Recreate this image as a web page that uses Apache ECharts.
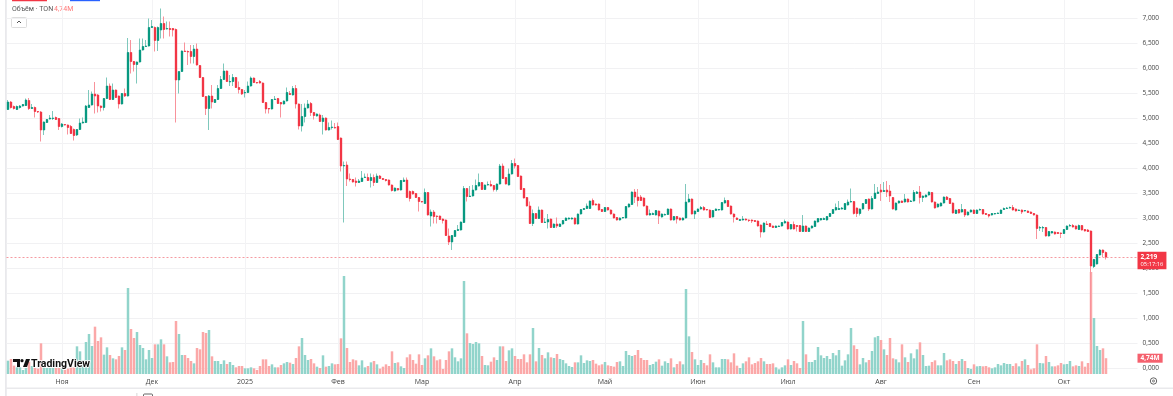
<!DOCTYPE html>
<html><head><meta charset="utf-8">
<style>html,body{margin:0;padding:0;background:#fff}#c{width:1173px;height:396px}</style>
<script src="https://cdn.jsdelivr.net/npm/echarts@6/dist/echarts.min.js"></script>
</head><body><div id="c"></div>
<script>
const opens=[5.17,5.32,5.23,5.17,5.21,5.24,5.25,5.35,5.19,5.21,
5.13,5.12,4.76,4.91,4.98,4.99,5.01,4.99,4.83,4.87,
4.86,4.83,4.77,4.66,4.77,4.90,4.91,5.21,5.26,5.48,
5.46,5.24,5.21,5.39,5.64,5.37,5.56,5.44,5.28,5.49,
5.44,6.31,6.13,6.07,6.12,6.36,6.43,6.44,6.81,6.81,
6.55,6.76,6.89,6.78,6.79,6.79,6.77,5.76,5.93,6.34,
6.33,6.33,6.23,6.38,6.05,5.81,5.43,5.19,5.44,5.31,
5.37,5.59,5.77,5.94,5.72,5.73,5.81,5.61,5.57,5.50,
5.51,5.64,5.80,5.71,5.73,5.70,5.31,5.19,5.18,5.37,
5.39,5.31,5.28,5.34,5.49,5.46,5.59,5.28,4.84,5.03,
5.20,5.29,5.11,5.04,5.06,4.93,5.00,4.76,4.81,4.81,
4.83,4.60,4.04,4.06,3.78,3.77,3.74,3.71,3.73,3.81,
3.81,3.75,3.81,3.71,3.84,3.79,3.77,3.76,3.66,3.54,
3.59,3.56,3.73,3.76,3.53,3.53,3.49,3.41,3.33,3.29,
3.51,3.04,3.12,3.04,3.04,2.98,2.96,2.64,2.52,2.63,
2.75,2.76,2.91,3.59,3.43,3.44,3.56,3.64,3.71,3.57,
3.66,3.67,3.65,3.57,3.68,4.04,3.81,3.66,3.88,4.09,
4.05,3.84,3.59,3.41,3.24,2.89,3.09,2.99,3.16,2.91,
2.92,2.98,2.81,2.88,2.83,2.88,2.95,2.98,2.98,3.00,
2.88,3.08,3.17,3.19,3.19,3.35,3.28,3.28,3.17,3.13,
3.21,3.16,3.08,3.01,2.96,3.00,3.00,3.22,3.27,3.52,
3.42,3.42,3.40,3.24,3.06,3.07,3.06,3.14,3.02,3.06,
3.07,3.18,2.96,3.03,3.00,2.96,3.00,3.32,3.38,3.08,
3.13,3.18,3.21,3.17,3.16,3.02,3.15,3.16,3.16,3.30,
3.35,3.24,3.08,3.00,2.95,2.96,2.98,2.96,2.96,2.95,
2.94,2.86,2.72,2.88,2.89,2.84,2.81,2.83,2.84,2.90,
2.92,2.78,2.87,2.85,2.85,2.73,2.84,2.73,2.80,2.83,
2.92,2.96,2.97,2.96,3.03,3.09,3.16,3.17,3.18,3.17,
3.26,3.32,3.33,3.20,3.09,3.18,3.29,3.38,3.18,3.39,
3.49,3.56,3.53,3.56,3.54,3.41,3.16,3.30,3.34,3.32,
3.38,3.33,3.34,3.49,3.52,3.41,3.42,3.46,3.51,3.32,
3.22,3.24,3.30,3.42,3.39,3.30,3.09,3.17,3.12,3.17,
3.06,3.12,3.16,3.09,3.16,3.17,3.09,3.07,3.06,3.08,
3.09,3.09,3.17,3.19,3.20,3.21,3.18,3.15,3.16,3.14,
3.14,3.12,3.09,3.06,2.80,2.80,2.81,2.64,2.70,2.72,
2.71,2.70,2.69,2.77,2.84,2.85,2.84,2.77,2.85,2.77,
2.76,2.74,2.03,2.08,2.26,2.36,2.31];
const closes=[5.32,5.21,5.19,5.23,5.24,5.27,5.36,5.19,5.21,5.13,
5.12,4.76,4.92,4.97,5.00,5.00,4.97,4.83,4.88,4.86,
4.81,4.69,4.65,4.77,4.90,4.92,5.24,5.26,5.48,5.44,
5.24,5.21,5.39,5.64,5.37,5.56,5.41,5.28,5.49,5.44,
6.31,6.13,6.07,6.12,6.36,6.43,6.44,6.81,6.83,6.55,
6.81,6.89,6.77,6.79,6.77,6.76,5.76,5.93,6.34,6.33,
6.32,6.23,6.38,6.06,5.81,5.43,5.19,5.44,5.32,5.37,
5.59,5.77,5.94,5.73,5.73,5.81,5.61,5.57,5.48,5.51,
5.64,5.80,5.71,5.70,5.70,5.31,5.18,5.18,5.37,5.38,
5.29,5.28,5.34,5.51,5.47,5.59,5.28,4.84,5.03,5.20,
5.28,5.11,5.05,5.08,4.93,5.00,4.76,4.81,4.82,4.80,
4.57,4.04,4.05,3.78,3.77,3.72,3.71,3.74,3.80,3.82,
3.75,3.81,3.71,3.84,3.79,3.77,3.75,3.66,3.55,3.60,
3.56,3.75,3.76,3.41,3.39,3.48,3.41,3.33,3.32,3.51,
3.06,3.12,3.03,3.03,2.97,2.95,2.65,2.52,2.65,2.75,
2.77,2.92,3.59,3.43,3.44,3.56,3.65,3.71,3.57,3.66,
3.67,3.64,3.57,3.68,4.04,3.79,3.68,3.88,4.09,4.04,
3.83,3.57,3.40,3.24,2.89,3.09,2.99,3.16,2.91,2.92,
2.97,2.81,2.88,2.84,2.88,2.95,3.00,3.00,3.00,2.88,
3.08,3.17,3.19,3.24,3.34,3.26,3.26,3.16,3.13,3.21,
3.16,3.08,3.00,2.96,3.00,3.01,3.23,3.28,3.52,3.42,
3.35,3.35,3.24,3.06,3.09,3.09,3.15,3.04,3.08,3.07,
3.18,2.96,3.03,2.98,2.96,3.00,3.32,3.38,3.08,3.14,
3.18,3.21,3.16,3.16,3.01,3.15,3.18,3.17,3.31,3.35,
3.23,3.08,3.02,2.97,2.97,2.98,2.96,2.95,2.94,2.93,
2.84,2.72,2.90,2.87,2.83,2.81,2.84,2.84,2.91,2.93,
2.78,2.87,2.78,2.83,2.73,2.84,2.73,2.80,2.84,2.94,
2.99,2.99,2.99,3.03,3.09,3.17,3.21,3.19,3.20,3.29,
3.32,3.33,3.09,3.09,3.18,3.29,3.37,3.18,3.39,3.50,
3.52,3.52,3.55,3.52,3.44,3.18,3.30,3.34,3.31,3.38,
3.32,3.34,3.51,3.52,3.41,3.44,3.46,3.52,3.32,3.20,
3.28,3.30,3.42,3.37,3.29,3.10,3.16,3.10,3.17,3.06,
3.12,3.16,3.09,3.16,3.17,3.08,3.07,3.04,3.09,3.09,
3.10,3.16,3.19,3.20,3.21,3.16,3.14,3.16,3.12,3.15,
3.11,3.09,3.06,2.79,2.81,2.81,2.64,2.73,2.73,2.68,
2.69,2.69,2.77,2.84,2.85,2.82,2.78,2.85,2.76,2.74,
2.73,2.04,2.17,2.27,2.36,2.31,2.219];
const lows=[5.16,5.19,5.17,5.16,5.19,5.23,5.24,5.16,5.18,5.01,
5.10,4.53,4.66,4.90,4.97,4.96,4.96,4.76,4.81,4.85,
4.67,4.68,4.55,4.64,4.76,4.89,4.90,5.20,5.25,5.09,
5.11,5.13,5.15,5.38,5.36,5.36,5.40,5.19,5.27,5.42,
5.43,5.89,5.93,5.69,6.11,6.35,6.42,6.43,6.80,6.33,
6.34,6.59,6.59,6.77,6.63,6.63,4.91,5.49,5.92,6.32,
6.06,6.09,6.09,6.05,5.80,5.42,5.06,4.76,5.19,5.30,
5.36,5.58,5.76,5.72,5.64,5.64,5.60,5.49,5.46,5.41,
5.50,5.63,5.70,5.69,5.69,5.30,5.09,5.09,5.17,5.36,
5.28,5.01,5.27,5.33,5.46,5.45,5.19,4.77,4.73,4.91,
5.19,5.04,4.97,5.03,4.92,4.67,4.75,4.75,4.77,4.79,
4.56,3.93,2.91,3.64,3.73,3.71,3.63,3.70,3.72,3.80,
3.74,3.61,3.64,3.70,3.78,3.76,3.73,3.65,3.53,3.53,
3.55,3.55,3.72,3.40,3.33,3.47,3.40,3.13,3.31,3.28,
3.05,2.83,2.89,2.89,2.96,2.89,2.64,2.46,2.36,2.62,
2.74,2.75,2.90,3.33,3.42,3.43,3.55,3.63,3.56,3.56,
3.65,3.63,3.53,3.53,3.67,3.78,3.67,3.65,3.87,3.99,
3.82,3.56,3.39,3.23,2.88,2.84,2.98,2.98,2.90,2.90,
2.79,2.80,2.80,2.80,2.82,2.87,2.94,2.97,2.97,2.87,
2.87,3.07,3.16,3.18,3.18,3.25,3.25,3.15,3.12,3.12,
3.15,3.07,2.99,2.95,2.95,2.99,2.99,3.21,3.26,3.30,
3.23,3.34,3.23,3.05,3.05,3.06,3.05,2.88,3.01,3.05,
3.06,2.95,2.95,2.89,2.95,2.95,2.99,3.31,3.07,2.98,
3.12,3.17,3.15,3.15,3.00,3.01,3.14,3.15,3.15,3.29,
3.22,3.07,2.91,2.96,2.94,2.95,2.95,2.92,2.90,2.92,
2.83,2.61,2.71,2.86,2.82,2.80,2.80,2.82,2.83,2.89,
2.77,2.77,2.77,2.73,2.72,2.72,2.72,2.72,2.79,2.82,
2.91,2.95,2.96,2.95,3.02,3.08,3.15,3.16,3.17,3.16,
3.25,3.31,3.07,3.02,3.05,3.17,3.28,3.14,3.17,3.38,
3.48,3.34,3.52,3.42,3.32,3.17,3.15,3.29,3.30,3.31,
3.31,3.32,3.33,3.48,3.29,3.32,3.41,3.45,3.31,3.19,
3.21,3.23,3.29,3.36,3.28,3.09,3.08,3.09,3.11,3.02,
3.05,3.11,3.08,3.08,3.15,3.07,3.06,3.01,3.05,3.07,
3.08,3.08,3.16,3.18,3.19,3.15,3.13,3.14,3.08,3.13,
3.10,3.08,3.05,2.58,2.74,2.72,2.63,2.63,2.69,2.67,
2.68,2.60,2.68,2.76,2.83,2.81,2.77,2.76,2.75,2.73,
2.72,0.56,2.00,2.07,2.25,2.22,2.17];
const highs=[5.36,5.34,5.25,5.25,5.26,5.28,5.39,5.40,5.28,5.23,
5.14,5.14,4.93,4.98,5.06,5.14,5.03,5.00,4.90,4.88,
4.87,4.86,4.79,4.78,4.99,5.01,5.26,5.56,5.53,5.72,
5.48,5.25,5.40,5.81,5.69,5.69,5.57,5.45,5.50,5.59,
6.60,6.56,6.14,6.13,6.59,6.59,6.56,6.99,6.96,6.83,
6.83,7.19,7.03,6.93,6.93,6.80,6.79,5.77,6.35,6.51,
6.35,6.46,6.46,6.49,6.06,5.82,5.44,5.46,5.66,5.38,
5.66,5.84,6.09,5.95,5.86,5.88,5.82,5.73,5.58,5.56,
5.73,5.83,5.81,5.72,5.76,5.71,5.32,5.20,5.38,5.44,
5.40,5.32,5.35,5.61,5.54,5.64,5.66,5.29,5.28,5.29,
5.36,5.32,5.12,5.09,5.09,5.06,5.01,4.91,4.95,4.90,
4.91,4.61,4.13,4.13,3.89,3.78,3.81,3.78,3.94,3.89,
3.89,3.89,3.87,3.89,3.86,3.80,3.78,3.77,3.67,3.61,
3.60,3.76,3.81,3.81,3.55,3.55,3.50,3.42,3.34,3.59,
3.52,3.17,3.16,3.05,3.05,2.99,2.97,2.79,2.66,2.76,
2.86,2.93,3.64,3.60,3.64,3.66,3.77,3.89,3.72,3.67,
3.73,3.75,3.66,3.69,4.08,4.09,3.82,3.99,4.16,4.19,
4.06,3.85,3.60,3.42,3.33,3.17,3.10,3.23,3.17,3.00,
3.08,2.99,2.89,3.01,2.89,2.96,3.01,3.01,3.01,3.01,
3.09,3.18,3.20,3.29,3.35,3.39,3.29,3.29,3.18,3.22,
3.22,3.17,3.09,3.02,3.01,3.02,3.24,3.29,3.53,3.58,
3.58,3.46,3.41,3.25,3.17,3.11,3.16,3.15,3.09,3.09,
3.19,3.19,3.04,3.04,3.01,3.01,3.68,3.48,3.39,3.15,
3.19,3.24,3.24,3.18,3.17,3.16,3.19,3.18,3.32,3.41,
3.36,3.25,3.09,3.01,2.98,3.04,2.99,2.97,2.97,2.96,
2.95,2.87,2.91,2.94,2.90,2.85,2.85,2.85,2.92,2.97,
2.93,2.88,2.93,2.86,2.86,3.06,2.85,2.81,2.85,2.95,
3.00,3.00,3.01,3.04,3.10,3.18,3.29,3.34,3.22,3.30,
3.37,3.59,3.34,3.21,3.19,3.30,3.38,3.39,3.44,3.68,
3.62,3.68,3.72,3.74,3.66,3.42,3.31,3.35,3.35,3.48,
3.39,3.36,3.56,3.54,3.64,3.45,3.47,3.53,3.52,3.33,
3.29,3.31,3.43,3.44,3.40,3.31,3.17,3.18,3.28,3.18,
3.13,3.17,3.17,3.17,3.19,3.18,3.10,3.08,3.10,3.10,
3.11,3.17,3.21,3.22,3.23,3.26,3.19,3.17,3.17,3.16,
3.15,3.13,3.10,3.07,2.84,2.84,2.82,2.74,2.74,2.73,
2.72,2.71,2.78,2.85,2.88,2.88,2.85,2.87,2.86,2.78,
2.78,2.75,2.18,2.28,2.38,2.37,2.33];
const volumes=[4.0,4.5,2.5,2,2,1.2,1.8,3.7,2.4,1.8,
1.6,9.2,2,1.8,1.8,1.8,1.8,1.8,1.8,1.2,
1.6,2.2,2,8.3,6.8,4.2,9.6,12,8.4,14.2,
9.9,11,5.8,8,5.7,4.7,4.4,5.4,8,7.2,
25.8,13.5,10.8,12.6,8.7,7.8,4.4,7.2,4.8,8.9,
8.9,10.4,8.9,5.3,3.5,3.6,15.9,12,5.7,5.7,
4.8,3.9,3.2,7.8,7.4,12.6,12.3,13.2,5.3,3.9,
3.9,3,4.1,3,3.6,2.7,2,2.4,2.4,1.7,
1.7,2,1.7,1.2,2.4,4.4,4.4,2.4,2.9,2,
2,2.7,3.2,3.6,3.4,3,4.8,8.3,10.8,5.7,
4.2,4.5,3.2,2.2,1.8,5.6,2.2,2.4,3.2,2.9,
3,10.7,29.4,7.8,3.6,4.4,4.1,2.6,4.1,2,
2.4,3.5,3.9,2.9,1.6,2.2,2.9,2.4,6.8,3.3,
3.5,2.3,1.8,5,5.9,4.2,3.1,5.9,2.7,4.7,
5.6,7.7,5.3,4.1,4.4,1.5,4.2,6.8,7.7,5,
3.8,4.7,27.9,12.2,9.3,9,9.6,9.2,5.4,2.7,
2.6,3.7,5,4.2,8.3,8.3,3.9,7.1,7.7,5.4,
4.5,4.5,5.9,3.5,5.9,13.8,3.8,7.8,5.7,4.7,
6.5,5,4.8,6,4.5,4.2,3.2,2.4,2.1,3.5,
3.5,5.6,3.3,4.1,3.9,4.2,3.1,2.6,2.9,3.6,
2.6,2.4,2.2,3.6,3.8,2.4,6.9,5.7,5.4,5.7,
7.2,4.8,4.2,4.2,2.7,3,3.7,4.4,2.5,3.8,
3.3,4.7,2,3,3.8,2.9,25.5,11.3,6.6,4.4,
2.7,4.2,3.3,2.6,5.9,3.5,2,2,4.5,4.5,
4.4,3.5,6.2,2.5,1.8,3.2,3.8,5,2.9,3.3,
3.8,4.8,3.8,3,3,3.2,2,1.4,2,2.6,
4.4,2.7,3.9,3.2,1.8,15.9,5.9,3.6,3.6,4.2,
8.1,5.6,4.8,5.4,4.5,6.3,5.6,7.2,2.5,4.1,
5.9,13.8,8.6,7.5,2.9,4.8,3.5,4.2,6.9,11,
11.4,10.2,7.4,5.7,10.8,4.7,4.4,3.5,8.9,5,
3.6,6.2,4.7,7.4,9.5,5.7,2.4,2.5,3.6,4.1,
2.6,2.6,6.3,4.1,4.4,3.9,3,3.9,4.5,3.9,
1.8,1.5,2.9,2.3,2.4,2.3,2.4,2,1.7,2,
3,2.6,3.3,3,3,2.4,3.2,2.3,3.9,4.4,
2.7,1.4,1.7,8.9,3.3,3.2,5.4,3.6,2.3,2.3,
2.6,3.3,2.9,3,3.9,2.3,2.6,2.4,3.8,2.2,
3.3,30.6,16.8,8.4,7.2,7.7,4.74];
const monthStarts=['2024-11-01','2024-12-01','2025-01-01','2025-02-01','2025-03-01','2025-04-01','2025-05-01','2025-06-01','2025-07-01','2025-08-01','2025-09-01','2025-10-01'];
const monthLabels=['Ноя','Дек','2025','Фев','Мар','Апр','Май','Июн','Июл','Авг','Сен','Окт'];
const firstDay='2024-10-14', totalBands=377;
const lastPrice=2.219, lastPriceTag='2,219', countdown='05:17:16', lastVolume=4.74, lastVolumeTag='4,74M';

const categories=[];
for(let i=0;i<totalBands;i++){const d=new Date(Date.parse(firstDay+'T00:00:00Z')+i*864e5);categories.push(d.toISOString().slice(0,10));}
const GREEN='#089981',RED='#F23645',GW='#7fc8bc',RW='#f8929b',GV='#91d4cb',RV='#fba8a8';
const isMonth=(i,v)=>monthStarts.includes(v);
const chart=echarts.init(document.getElementById('c'),null,{renderer:'canvas'});
const fnt='"Open Sans","Noto Sans",sans-serif';
const L=6.5,W=1131;
const bodyData=opens.map((o,i)=>[o,closes[i],Math.min(o,closes[i]),Math.max(o,closes[i])]);
chart.setOption({
 animation:false,backgroundColor:'#fff',
 grid:[{left:L,width:W,top:0,height:374},{left:L,width:W,top:18,height:350}],
 xAxis:[
  {type:'category',gridIndex:0,data:categories,boundaryGap:true,
   axisLine:{show:false},axisTick:{show:false},
   axisLabel:{interval:isMonth,formatter:v=>monthLabels[monthStarts.indexOf(v)],fontSize:7,fontFamily:fnt,color:'#444',margin:4,hideOverlap:false},
   splitLine:{show:true,alignWithLabel:true,interval:isMonth,lineStyle:{color:'#f3f3f5',width:1}}},
  {type:'category',gridIndex:1,data:categories,show:false}
 ],
 yAxis:[
  {type:'value',gridIndex:0,min:0,max:112.2,show:false,splitLine:{show:false}},
  {type:'value',gridIndex:1,min:0,max:7,interval:0.5,position:'right',
   axisLine:{show:false},axisTick:{show:false},
   axisLabel:{fontSize:6.5,fontFamily:fnt,color:'#444',margin:5,formatter:v=>v.toFixed(3).replace('.',',')},
   splitLine:{lineStyle:{color:'#f1f1f3',width:1}}}
 ],
 series:[
  {type:'bar',xAxisIndex:0,yAxisIndex:0,z:1,barWidth:2.5,silent:true,
   data:volumes.map((v,i)=>({value:v,itemStyle:{color:closes[i]>=opens[i]?GV:RV}})),
   markLine:{silent:true,symbol:'none',lineStyle:{color:'transparent',width:1},
    data:[{yAxis:lastVolume,label:{show:true,position:'end',distance:0,formatter:lastVolumeTag,color:'#fff',backgroundColor:'#f5616e',fontSize:6.5,fontWeight:'bold',fontFamily:fnt,padding:[1,3,1,3]}}]}},
  {type:'candlestick',name:'wick',xAxisIndex:1,yAxisIndex:1,z:3,clip:false,barWidth:1,silent:true,
   itemStyle:{color:GW,color0:RW,borderColor:GW,borderColor0:RW,borderWidth:1},
   data:opens.map((o,i)=>[o,closes[i],lows[i],highs[i]]),
   markLine:{silent:true,symbol:'none',z:2,lineStyle:{color:'#f59aa1',type:[2,2],width:1},
    data:[{yAxis:lastPrice,label:{show:true,position:'end',distance:0,offset:[0,3.5],
      formatter:'{a|'+lastPriceTag+'}\n{b|'+countdown+'}',backgroundColor:'#F23645',padding:[1,3,1,3],
      rich:{a:{color:'#fff',fontSize:6.5,fontFamily:fnt,fontWeight:'bold',lineHeight:8},b:{color:'#fff',fontSize:5.8,fontFamily:fnt,lineHeight:7.5}}}}]}},
  {type:'candlestick',name:'halo',xAxisIndex:1,yAxisIndex:1,z:4,clip:false,barWidth:2.6,silent:true,
   itemStyle:{color:'rgba(8,153,129,0.35)',color0:'rgba(242,54,69,0.35)',borderWidth:0},
   data:bodyData},
  {type:'candlestick',name:'body',xAxisIndex:1,yAxisIndex:1,z:5,clip:false,barWidth:2.4,silent:true,
   itemStyle:{color:GREEN,color0:RED,borderColor:GREEN,borderColor0:RED,borderWidth:1},
   data:bodyData}
 ],
 graphic:[
  {type:'rect',shape:{x:12,y:0,width:35,height:1.2},style:{fill:'#F23645'},silent:true},
  {type:'rect',shape:{x:70,y:0,width:30,height:1.2},style:{fill:'#2962ff'},silent:true},
  {type:'rect',shape:{x:5,y:0,width:1.8,height:396},style:{fill:'#e9e9ec'},silent:true},
  {type:'rect',shape:{x:5,y:387.5,width:1168,height:1.5},style:{fill:'#e9e9ec'},silent:true},
  {type:'text',x:12,y:5.5,style:{text:'Объём · TON',font:'7px Roboto,sans-serif',fill:'#555'},silent:true},
  {type:'text',x:54,y:5.5,style:{text:'4,74M',font:'7px Roboto,sans-serif',fill:'#f77'},silent:true},
  {type:'rect',shape:{x:11.5,y:17.5,width:15,height:10,r:1},style:{fill:'#fff',stroke:'#ddd',lineWidth:1},silent:true},
  {type:'polyline',shape:{points:[[17,23],[19,21],[21,23]]},style:{stroke:'#555',fill:null,lineWidth:1},silent:true},
  {type:'rect',z:10,shape:{x:13,y:359,width:7,height:3},style:{fill:'#111'},silent:true},
  {type:'rect',z:10,shape:{x:17,y:359,width:3,height:8},style:{fill:'#111'},silent:true},
  {type:'circle',z:10,shape:{cx:22,cy:360.7,r:1.6},style:{fill:'#111'},silent:true},
  {type:'polygon',z:10,shape:{points:[[26,359],[30,359],[27,367],[23,367]]},style:{fill:'#111'},silent:true},
  {type:'text',z:10,x:31,y:358.5,style:{text:'TradingView',font:'bold 10.5px Roboto,sans-serif',fill:'#111',stroke:'#fff',lineWidth:1.5},silent:true},
  {type:'circle',shape:{cx:1153.5,cy:381,r:3.2},style:{fill:'none',stroke:'#555',lineWidth:0.9},silent:true},
  {type:'circle',shape:{cx:1153.5,cy:381,r:1},style:{fill:'none',stroke:'#555',lineWidth:0.8},silent:true},
  {type:'rect',shape:{x:136.5,y:393,width:0.8,height:3},style:{fill:'#ccc'},silent:true},
  {type:'rect',shape:{x:143.5,y:394,width:9,height:3,r:1},style:{fill:'none',stroke:'#555',lineWidth:0.9},silent:true}
 ]
});
</script></body></html>
